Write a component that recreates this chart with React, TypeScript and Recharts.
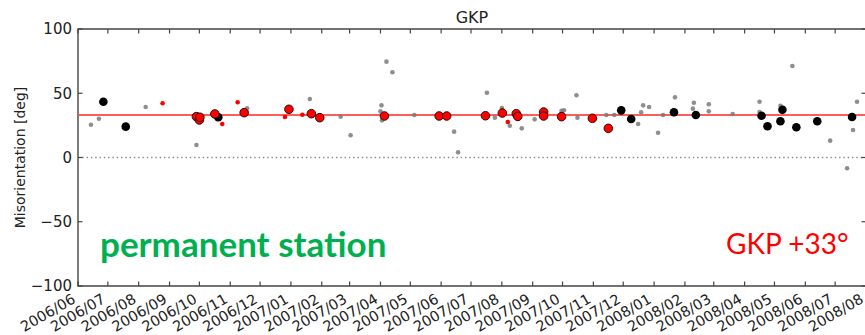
import React from 'react'
import {
  ScatterChart,
  Scatter,
  XAxis,
  YAxis,
  ReferenceLine,
  ReferenceArea,
} from 'recharts'

// month ticks along the time axis
const monthLabels = [
  '2006/06', '2006/07', '2006/08', '2006/09', '2006/10', '2006/11', '2006/12',
  '2007/01', '2007/02', '2007/03', '2007/04', '2007/05', '2007/06', '2007/07',
  '2007/08', '2007/09', '2007/10', '2007/11', '2007/12', '2008/01', '2008/02',
  '2008/03', '2008/04', '2008/05', '2008/06', '2008/07', '2008/08',
]
const yTicks = [-100, -50, 0, 50, 100]
const stationOffset = 33

// [days since 2006/06/01, misorientation in deg]
const smallGray: [number, number][] = [
  [13, 25.5], [21, 30.2], [68, 39.3], [119, 9.7], [170, 38.3], [233, 45.5],
  [264, 31.8], [274, 17.3], [305, 40.6], [304, 35.9], [305.5, 28.9], [310, 74.6],
  [316, 66.3], [338, 33.1], [378, 20.1], [382, 4.0], [411, 50.4], [419, 31.0],
  [426, 38.5], [434, 24.7], [442, 30.0], [446, 22.7], [459, 29.7], [486, 36.4],
  [488.5, 36.7], [501, 48.4], [502, 31.0], [531, 33.1], [539, 33.1], [563, 26.1],
  [566, 35.2], [568, 40.6], [574, 39.3], [583, 19.3], [588, 33.1], [600, 46.8],
  [618, 38.0], [619, 42.6], [634, 41.4], [634, 35.9], [658, 33.9], [685, 43.4],
  [685, 35.4], [706, 40.3], [718, 71.2], [756, 13.1], [773, -8.4], [779, 21.4],
  [783, 43.4],
]
const smallRed: [number, number][] = [
  [85, 42.2], [145, 26.1], [160.5, 43.0], [208, 31.5], [225.5, 33.3], [432, 27.6],
]
const bigBlack: [number, number][] = [
  [25.5, 43.4], [48, 24.0], [141, 31.3], [546, 36.7], [556, 30.0], [599, 35.2],
  [621, 33.1], [687, 32.5], [693, 24.3], [706, 28.2], [708, 37.2], [722, 23.5],
  [743, 28.2], [778, 31.5],
]
const bigRed: [number, number][] = [
  [119, 31.8], [122, 29.2], [122.5, 31.3], [137.5, 33.9], [167, 34.9], [212, 37.5],
  [234.5, 34.1], [243, 31.0], [308, 32.3], [363, 32.3], [370.5, 32.3], [409.5, 32.5],
  [426.5, 34.6], [440.5, 34.1], [442, 32.0], [468, 35.4], [468, 32.3], [486, 31.8],
  [517, 30.5], [533, 22.7],
]

const START = Date.UTC(2006, 5, 1)
const dayOf = (label: string) => {
  const [y, m] = label.split('/').map(Number)
  return (Date.UTC(y, m - 1, 1) - START) / 86400000
}
const monthTicks = monthLabels.map(dayOf)
const X_MAX = monthTicks[monthTicks.length - 1]

const toRows = (pts: [number, number][]) => pts.map(([day, deg]) => ({ day, deg }))

const CHART_W = 880
const CHART_H = 335
const MARGIN = { top: 29, right: 14, bottom: 0, left: 0 }
const Y_AXIS_W = 78
const X_AXIS_H = 49
const PLOT_W = CHART_W - MARGIN.left - MARGIN.right - Y_AXIS_W
const PLOT_H = CHART_H - MARGIN.top - MARGIN.bottom - X_AXIS_H

const AXIS_COLOR = '#444'
const FONT = '"DejaVu Sans", sans-serif'
const TICK_LEN = 4.5

function BottomTick(props: any) {
  const { x, y, payload } = props
  const label = monthLabels[monthTicks.indexOf(payload.value)]
  const lx = x - 1.5
  const ly = y + 16
  return (
    <g>
      <line x1={x} x2={x} y1={y} y2={y - TICK_LEN} stroke={AXIS_COLOR} strokeWidth={1.2} />
      <line x1={x} x2={x} y1={y - PLOT_H} y2={y - PLOT_H + TICK_LEN} stroke={AXIS_COLOR} strokeWidth={1.2} />
      <text
        x={lx}
        y={ly}
        textAnchor="end"
        transform={`rotate(-30, ${lx}, ${ly})`}
        fontFamily={FONT}
        fontSize={14.5}
        fill="#222"
      >
        {label}
      </text>
    </g>
  )
}

function LeftTick(props: any) {
  const { x, y, payload } = props
  const v = payload.value as number
  const label = v < 0 ? `\u2212${Math.abs(v)}` : `${v}`
  return (
    <g>
      <line x1={x} x2={x + TICK_LEN} y1={y} y2={y} stroke={AXIS_COLOR} strokeWidth={1.2} />
      <line x1={x + PLOT_W} x2={x + PLOT_W - TICK_LEN} y1={y} y2={y} stroke={AXIS_COLOR} strokeWidth={1.2} />
      <text x={x - 6} y={y} dy="0.36em" textAnchor="end" fontFamily={FONT} fontSize={15} fill="#222">
        {label}
      </text>
    </g>
  )
}

const dot = (r: number, fill: string, stroke?: string, opacity = 1) => (p: any) => (
  <circle
    cx={p.cx}
    cy={p.cy}
    r={r}
    fill={fill}
    fillOpacity={opacity}
    stroke={stroke ?? 'none'}
    strokeWidth={stroke ? 0.9 : 0}
  />
)

export default function App() {
  const titleX = MARGIN.left + Y_AXIS_W + PLOT_W / 2
  const midY = MARGIN.top + PLOT_H / 2
  return (
    <div
      style={{
        position: 'fixed',
        left: 0,
        top: 0,
        width: 865,
        height: 335,
        overflow: 'hidden',
        background: '#fff',
      }}
    >
      <ScatterChart width={CHART_W} height={CHART_H} margin={MARGIN}>
        <XAxis
          dataKey="day"
          type="number"
          domain={[0, X_MAX]}
          ticks={monthTicks}
          interval={0}
          height={X_AXIS_H}
          axisLine={false}
          tickLine={false}
          tickSize={0}
          tickMargin={0}
          tick={BottomTick}
          allowDataOverflow
        />
        <YAxis
          dataKey="deg"
          type="number"
          domain={[-100, 100]}
          ticks={yTicks}
          interval={0}
          width={Y_AXIS_W}
          axisLine={false}
          tickLine={false}
          tickSize={0}
          tickMargin={0}
          tick={LeftTick}
          allowDataOverflow
        />
        <ReferenceLine y={0} stroke="#8a8a8a" strokeWidth={1.4} strokeDasharray="1.4 2.9" />
        <ReferenceLine y={stationOffset} stroke="#ff4a4a" strokeWidth={2} strokeOpacity={0.9} />
        <Scatter data={toRows(smallGray)} isAnimationActive={false} shape={dot(2.3, '#7a7a7a', undefined, 0.85)} />
        <Scatter data={toRows(smallRed)} isAnimationActive={false} shape={dot(2.3, '#ff0000')} />
        <Scatter data={toRows(bigBlack)} isAnimationActive={false} shape={dot(4.3, '#000')} />
        <Scatter data={toRows(bigRed)} isAnimationActive={false} shape={dot(4.3, '#ff0000', '#1a0000')} />
        <ReferenceArea
          x1={0}
          x2={X_MAX}
          y1={-100}
          y2={100}
          fill="none"
          fillOpacity={0}
          stroke={AXIS_COLOR}
          strokeWidth={1.4}
        />
        <text x={titleX} y={23} textAnchor="middle" fontFamily={FONT} fontSize={16} fill="#222">
          GKP
        </text>
        <text
          x={25}
          y={midY}
          textAnchor="middle"
          transform={`rotate(-90, 25, ${midY})`}
          fontFamily={FONT}
          fontSize={14}
          fill="#222"
        >
          Misorientation [deg]
        </text>
        <text x={100} y={257} fontFamily="Lato, sans-serif" fontWeight={700} fontSize={35} fill="#00b050">
          permanent station
        </text>
        <text x={726} y={254} fontFamily="Lato, sans-serif" fontSize={28} fill="#ff0000">
          GKP +33°
        </text>
      </ScatterChart>
    </div>
  )
}
